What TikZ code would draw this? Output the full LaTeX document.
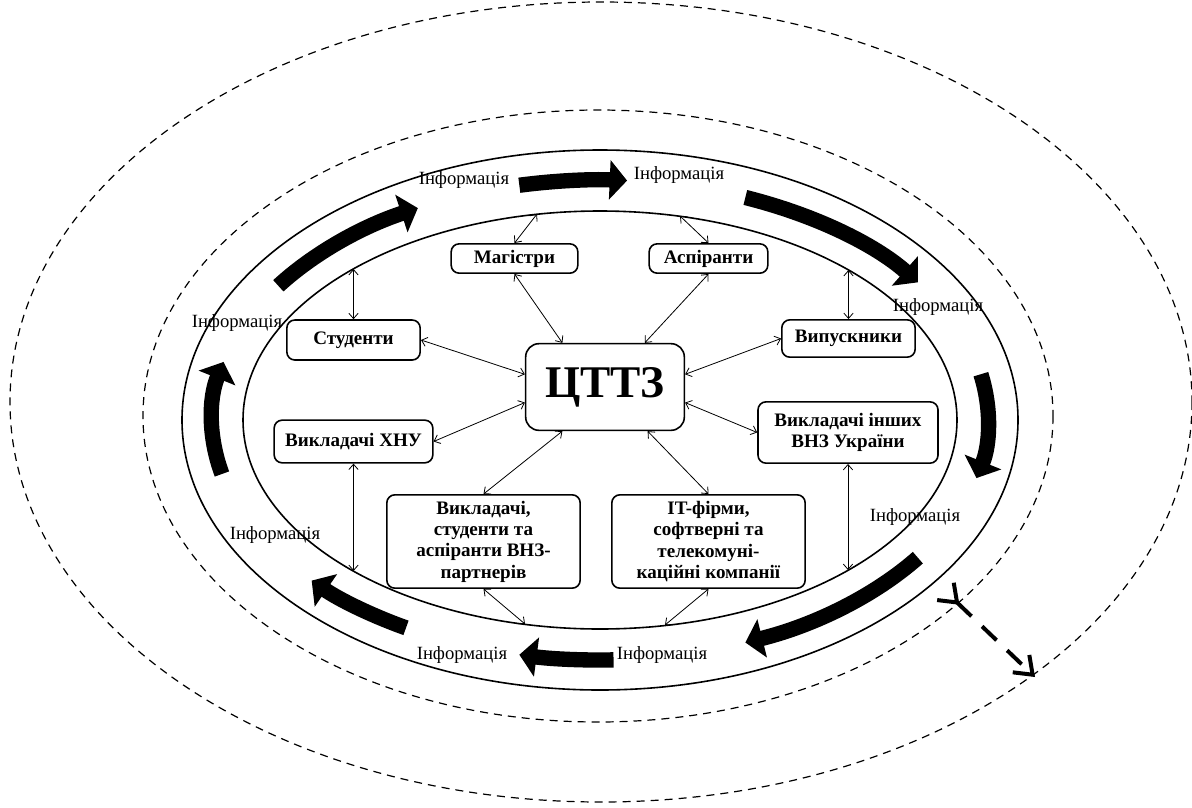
\documentclass[tikz,border=0pt]{standalone}
\usepackage{fontspec}
\setmainfont{Liberation Serif}
\usetikzlibrary{arrows.meta}

\begin{document}
\begin{tikzpicture}[x=0.75pt, y=-0.75pt,
    box/.style={draw, line width=1.2pt, rounded corners=6pt, align=center, inner sep=2pt,
      font=\fontsize{14.3}{16}\selectfont\bfseries},
    info/.style={font=\fontsize{14}{16}\selectfont, inner sep=0pt},
    link/.style={{Straight Barb[length=4pt,width=7pt]}-{Straight Barb[length=4pt,width=7pt]}, line width=0.6pt},
    flow/.style={line width=11.5pt, -{Triangle[width=29pt,length=13pt]}},
    ring/.style={line width=1.2pt},
    halo/.style={line width=0.9pt, dash pattern=on 6pt off 4.5pt}]

  \useasboundingbox (0,0) rectangle (1192,807);

  % outer environment
  \draw[halo] (601,402) ellipse [x radius=591, y radius=400];
  \draw[halo] (598,416) ellipse [x radius=455, y radius=306];

  % rings
  \draw[ring] (600,420) ellipse [x radius=418, y radius=270];
  \draw[ring] (600,420) ellipse [x radius=357, y radius=209];

  % information flow round the ring
  \foreach \a/\b in {-146/-118, -102/-86, -68/-35, -11/14, 35/68, 88/102, 120/138, 167/194}
    \draw[flow] (600,420) ++(\a:388 and 240) arc[start angle=\a, end angle=\b, x radius=388, y radius=240];

  \node[info] (inf1) at (464,180) {Інформація};
  \node[info] (inf2) at (679,175) {Інформація};
  \node[info] (inf3) at (938,307) {Інформація};
  \node[info] (inf4) at (915,517) {Інформація};
  \node[info] (inf5) at (662,655) {Інформація};
  \node[info] (inf6) at (462,655) {Інформація};
  \node[info] (inf7) at (275,535) {Інформація};
  \node[info] (inf8) at (237,323) {Інформація};

  % centre and partners
  \node[box, minimum width=119pt, minimum height=65pt, rounded corners=10pt,
    font=\fontsize{34}{38}\selectfont\bfseries] (ctz) at (605,387) {ЦТТЗ};
  \node[box, minimum width=95pt, minimum height=22pt] (mag) at (514.5,258.5) {Магістри};
  \node[box, minimum width=89pt, minimum height=22pt] (asp) at (708.5,258.5) {Аспіранти};
  \node[box, minimum width=100pt, minimum height=30pt] (stud) at (353.5,340) {Студенти};
  \node[box, minimum width=100pt, minimum height=28pt] (vyp) at (848.5,338.5) {Випускники};
  \node[box, minimum width=119pt, minimum height=32pt] (khnu) at (353.5,441.5) {Викладачі ХНУ};
  \node[box, minimum width=135pt, minimum height=46pt] (insh) at (848,432.5) {Викладачі інших\\ВНЗ України};
  \node[box, minimum width=145pt, minimum height=70pt] (part) at (483.5,541.5)
    {Викладачі,\\студенти та\\аспіранти ВНЗ-\\партнерів};
  \node[box, minimum width=145pt, minimum height=70pt] (itf) at (708.5,541.5)
    {IT-фірми,\\софтверні та\\телекомуні-\\каційні компанії};

  % points on the inner ring
  \coordinate (r-mag) at (537,214);
  \coordinate (r-asp) at (680,216);
  \coordinate (r-stud) at (353.5,269);
  \coordinate (r-vyp) at (848.5,270);
  \coordinate (r-khnu) at (353.5,571);
  \coordinate (r-insh) at (848,570);
  \coordinate (r-part) at (525,624);
  \coordinate (r-itf) at (665,625);

  \draw[link] (mag.south) -- (ctz.134);
  \draw[link] (asp.south) -- (ctz.48);
  \draw[link] (stud.east) -- (ctz.171);
  \draw[link] (vyp.west) -- (ctz.9);
  \draw[link] (khnu.east) -- (ctz.191);
  \draw[link] (insh.west) -- (ctz.-11);
  \draw[link] (part.north) -- (ctz.226);
  \draw[link] (itf.north) -- (ctz.-46);

  \draw[link] (mag.north) -- (r-mag);
  \draw[link] (asp.north) -- (r-asp);
  \draw[link] (stud.north) -- (r-stud);
  \draw[link] (vyp.north) -- (r-vyp);
  \draw[link] (khnu.south) -- (r-khnu);
  \draw[link] (insh.south) -- (r-insh);
  \draw[link] (part.south) -- (r-part);
  \draw[link] (itf.south) -- (r-itf);

  % way out
  \coordinate (out-a) at (944,590);
  \coordinate (out-b) at (1035,677);
  \draw[line width=3pt, dash pattern=on 15pt off 11pt,
    {Straight Barb[reversed,length=12pt,width=18pt]}-{Straight Barb[length=12pt,width=18pt]}] (out-a) -- (out-b);
\end{tikzpicture}
\end{document}
